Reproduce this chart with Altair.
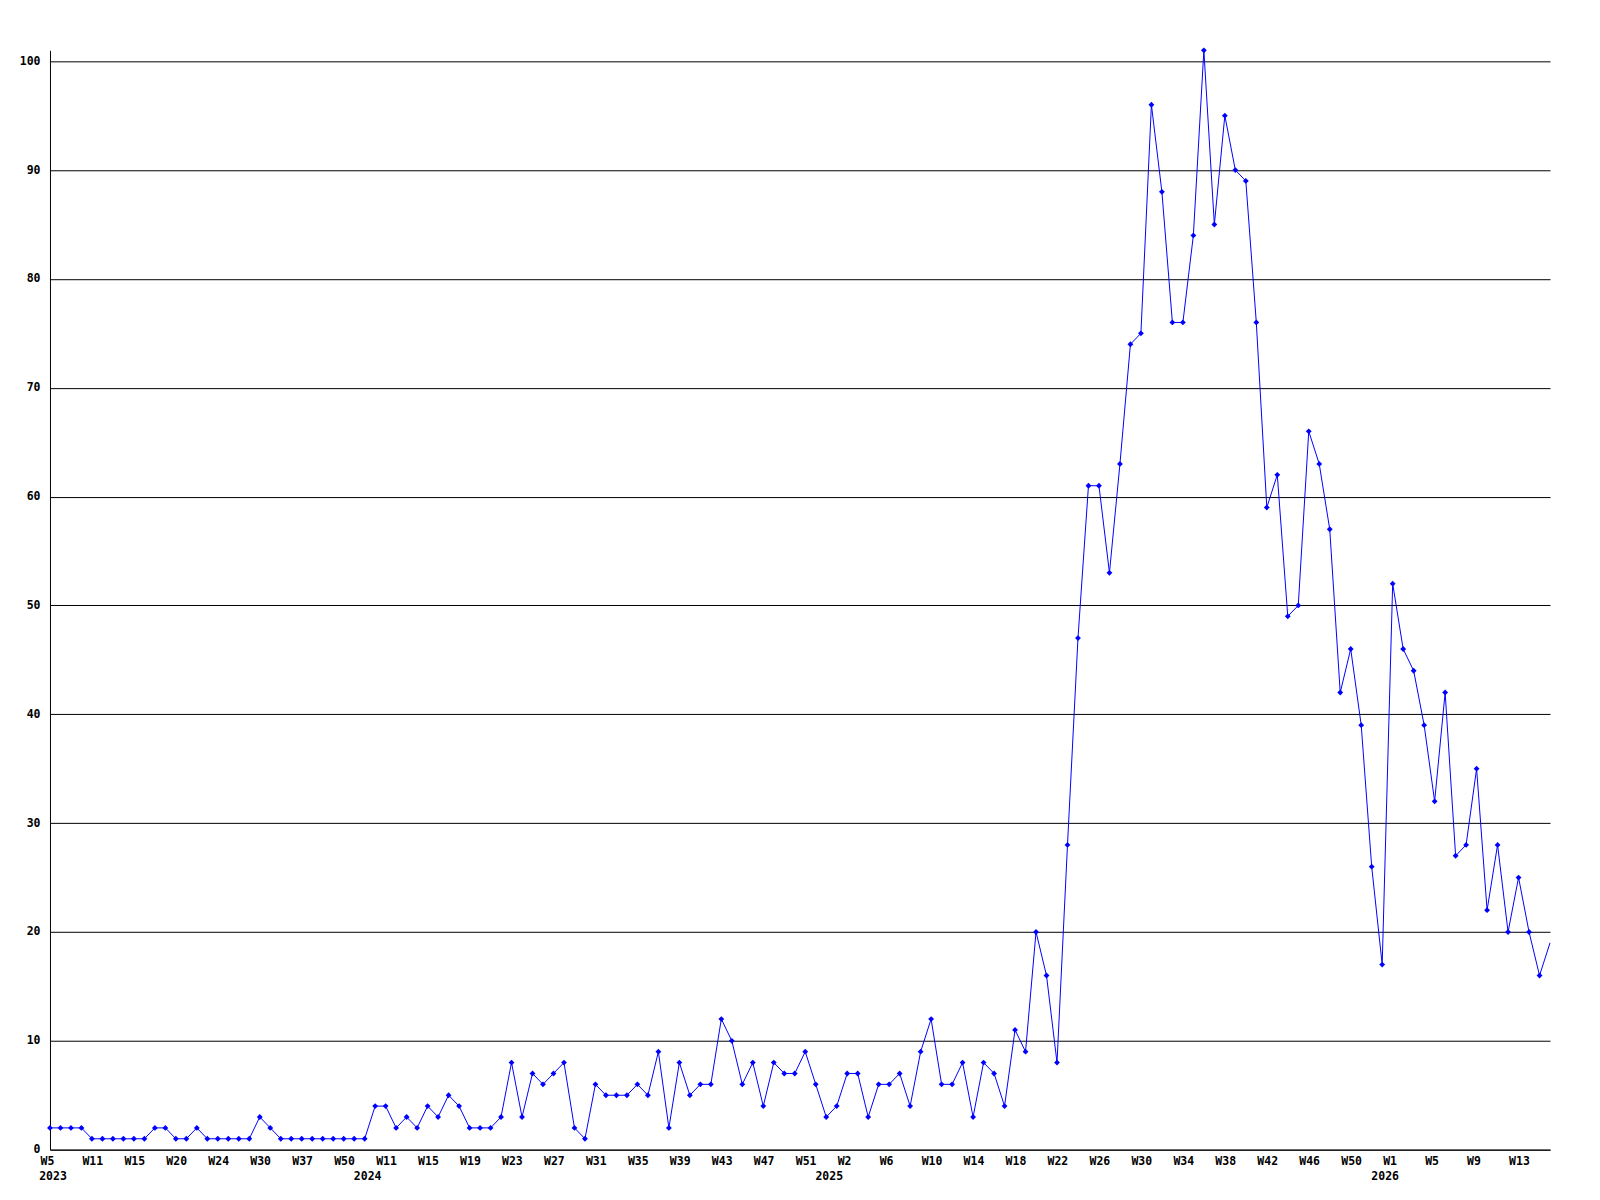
import altair as alt
import pandas as pd

# weekly counts, one per plotted point (ordinal weeks)
values = [
    2, 2, 2, 2, 1, 1, 1, 1, 1, 1, 2, 2, 1, 1, 2, 1, 1, 1, 1, 1, 3, 2, 1, 1, 1, 1, 1, 1, 1, 1, 1, 4, 4, 2,
    3, 2, 4, 3, 5, 4, 2, 2, 2, 3, 8, 3, 7, 6, 7, 8, 2, 1, 6, 5, 5, 5, 6, 5, 9, 2, 8, 5, 6, 6, 12, 10, 6, 8, 4, 8,
    7, 7, 9, 6, 3, 4, 7, 7, 3, 6, 6, 7, 4, 9, 12, 6, 6, 8, 3, 8, 7, 4, 11, 9,
    20, 16, 8, 28, 47, 61, 61, 53, 63, 74, 75, 96, 88, 76, 76, 84, 101, 85, 95, 90, 89, 76, 59, 62, 49, 50, 66, 63,
    57, 42, 46, 39, 26, 17, 52, 46, 44, 39, 32, 42, 27, 28, 35, 22, 28, 20, 25, 20, 16, 19,
]

# tick labels, one every 4th point
week_ticks = [
    "W5", "W11", "W15", "W20", "W24", "W30", "W37", "W50",
    "W11", "W15", "W19", "W23", "W27", "W31", "W35", "W39", "W43", "W47", "W51",
    "W2", "W6", "W10", "W14", "W18", "W22", "W26", "W30", "W34", "W38", "W42", "W46", "W50",
    "W1", "W5", "W9", "W13",
]

year_labels = ["2023", "2024", "2025", "2026"]
year_index = [0, 30, 74, 127]

df = pd.DataFrame({"i": list(range(len(values))), "v": values})
years_df = pd.DataFrame({"i": year_index, "label": year_labels})

tick_idx = list(range(0, 4 * len(week_ticks), 4))
label_expr = "[" + ",".join(f"'{w}'" for w in week_ticks) + "][datum.value / 4]"

FONT = "DejaVu Sans Mono"
FS = 11.5
n_last = len(values) - 1

x_enc = alt.X(
    "i:Q",
    scale=alt.Scale(domain=[0, n_last], nice=False, zero=False),
    axis=alt.Axis(
        values=tick_idx,
        labelExpr=label_expr,
        grid=False,
        ticks=False,
        domain=True,
        domainColor="black",
        domainWidth=1,
        labelAlign="left",
        labelOffset=-10,
        labelPadding=12,
        labelBaseline="middle",
        labelFont=FONT,
        labelFontSize=FS,
        labelFontWeight="bold",
        labelColor="black",
        labelOverlap=False,
        labelFlush=False,
        title=None,
    ),
)

y_enc = alt.Y(
    "v:Q",
    scale=alt.Scale(domain=[0, max(values)], nice=False, zero=True),
    axis=alt.Axis(
        values=list(range(0, 101, 10)),
        grid=True,
        gridColor="black",
        gridOpacity=1,
        gridWidth=1,
        ticks=False,
        domain=True,
        domainColor="black",
        domainWidth=1,
        labelPadding=10,
        labelFont=FONT,
        labelFontSize=FS,
        labelFontWeight="bold",
        labelColor="black",
        labelFlush=False,
        labelOverlap=False,
        title=None,
    ),
)

line = alt.Chart(df).mark_line(color="#0000ff", strokeWidth=1).encode(x=x_enc, y=y_enc)
points = (
    alt.Chart(df)
    .transform_filter(f"datum.i < {n_last}")
    .mark_point(shape="diamond", filled=True, size=34, color="#0000ff", opacity=1)
    .encode(x=x_enc, y=y_enc)
)

years = alt.Chart(years_df).mark_text(
    align="center", baseline="middle", dx=3, font=FONT, fontSize=FS, fontWeight="bold", color="black"
).encode(
    x=alt.X("i:Q", scale=alt.Scale(domain=[0, n_last], nice=False, zero=False)),
    y=alt.value(1127),
    text="label:N",
)

chart = (
    alt.layer(line, points, years)
    .properties(
        width=1501,
        height=1100,
        autosize=alt.AutoSizeParams(type="none"),
        padding={"left": 42, "top": 42, "right": 42, "bottom": 50},
        background="white",
    )
    .configure_view(stroke=None)
)

chart.save("out.html", embed_options={"renderer": "svg", "actions": False})
